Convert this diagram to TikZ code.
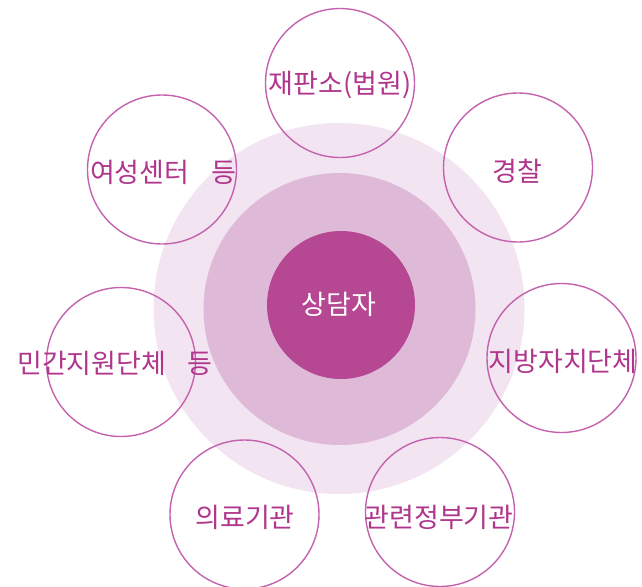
\documentclass[tikz,border=0pt]{standalone}
\usepackage{fontspec}
\newfontfamily\kr{Noto Sans CJK KR}
\definecolor{ringA}{HTML}{F2E4F0}
\definecolor{ringB}{HTML}{DFB9D8}
\definecolor{core}{HTML}{B64792}
\definecolor{edge}{HTML}{C462AE}
\definecolor{ink}{HTML}{B0358C}
\tikzset{
  disc/.style={circle,inner sep=0pt,draw=none},
  sat/.style={circle,inner sep=0pt,minimum size=149pt,draw=edge,line width=1.4pt},
  lbl/.style={inner sep=0pt,text=ink,font=\kr\fontsize{27}{27}\selectfont,text height=1.0em,text depth=0.05em,anchor=center},
}
\begin{document}
\begin{tikzpicture}[x=1pt,y=-1pt]
\useasboundingbox (0,0) rectangle (642,586);
\node[disc,fill=ringA,minimum size=371pt] (outer) at (339,308.5) {};
\node[disc,fill=ringB,minimum size=272pt] (mid) at (339.5,309) {};
\node[disc,fill=core,minimum size=148pt] (core) at (341,305) {};
\node[lbl,text=white] (coreT) at (339,310) {상담자};

\node[sat] (court) at (340,83) {};
\node[sat] (women) at (162,169.5) {};
\node[sat] (police) at (518,167.5) {};
\node[sat] (civil) at (121,362) {};
\node[sat] (local) at (561.5,358) {};
\node[sat] (medical) at (244.5,514.5) {};
\node[sat] (gov) at (440,512) {};

\node[lbl] (courtT) at (340,89) {재판소(법원)};
\node[lbl] (womenT) at (163,178) {여성센터\hspace{0.8em}등};
\node[lbl] (policeT) at (517,177) {경찰};
\node[lbl] (civilT) at (115,369) {민간지원단체\hspace{0.8em}등};
\node[lbl] (localT) at (563,367) {지방자치단체};
\node[lbl] (medicalT) at (245,523) {의료기관};
\node[lbl] (govT) at (439,523) {관련정부기관};
\end{tikzpicture}
\end{document}
